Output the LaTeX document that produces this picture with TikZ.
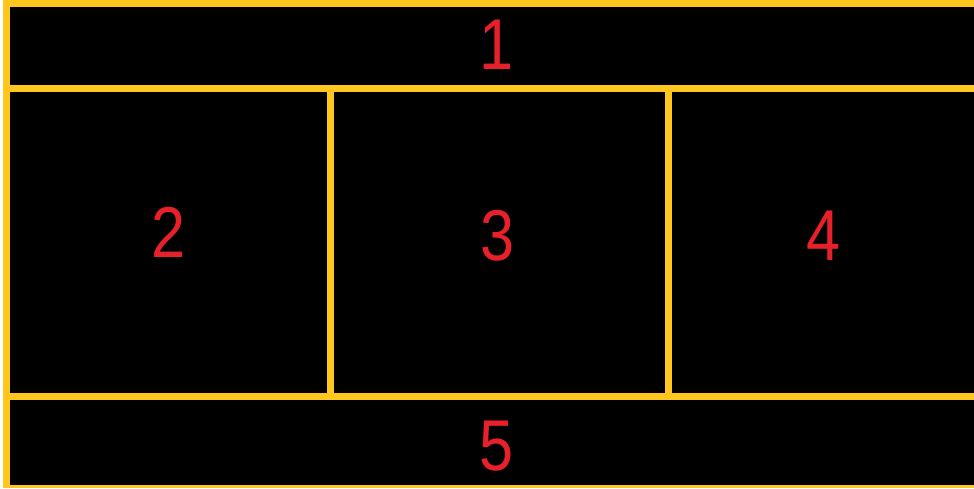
\documentclass[tikz,border=0pt]{standalone}
\usepackage{fontspec}
\setmainfont{Liberation Sans}[FakeStretch=0.85]
\definecolor{frameyellow}{HTML}{FFC61E}
\definecolor{labelred}{HTML}{E8202A}
\begin{document}
\begin{tikzpicture}[x=1pt,y=-1pt,
  divider/.style={draw=frameyellow,line width=7pt},
  lbl/.style={text=labelred,font=\fontsize{72}{72}\selectfont,inner sep=0pt,anchor=center}]
\useasboundingbox (0,0) rectangle (974,488);
\fill[white] (0,0) rectangle (974,488);
\fill[black] (3,0) rectangle (974,488);
% outer frame
\draw[divider] (6.5,3.5) -- (974,3.5);
\draw[divider] (6.5,0) -- (6.5,488);
\fill[frameyellow] (3,485) rectangle (974,488);
% horizontal dividers
\draw[divider] (3,88.5) -- (974,88.5);
\draw[divider] (3,396.5) -- (974,396.5);
% vertical dividers
\draw[divider] (330,88.5) -- (330,396.5);
\draw[divider] (668,88.5) -- (668,396.5);
% labels
\node[lbl] (l1) at (497,45) {1};
\node[lbl] (l2) at (169,232) {2};
\node[lbl] (l3) at (498,236) {3};
\node[lbl] (l4) at (824,236) {4};
\node[lbl] (l5) at (497,446) {5};
\end{tikzpicture}
\end{document}
